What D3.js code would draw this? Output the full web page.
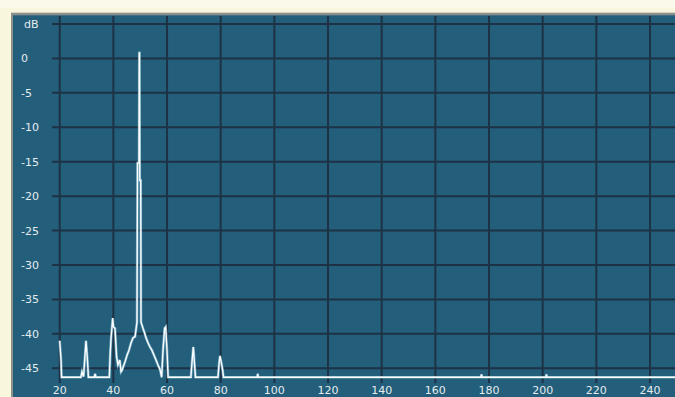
<!DOCTYPE html>
<html>
<head>
<meta charset="utf-8">
<script src="https://cdn.jsdelivr.net/npm/d3@7"></script>
<style>
  html, body { margin: 0; padding: 0; background: #f8f6dc; }
  svg { display: block; }
  text { font-family: "DejaVu Sans", Verdana, sans-serif; font-size: 11px; fill: #e4ecef; }
</style>
</head>
<body>
<svg id="chart" width="675" height="397"></svg>
<script>
// Spectrum trace: frequency (Hz) and level (dB)
const freqHz = [
  20.0, 20.5, 20.7, 27.9, 28.3, 28.9, 29.4, 29.8, 30.3, 30.7,
  32.9, 33.2, 33.5, 38.5, 38.8, 39.1, 39.75, 40.05, 40.6, 41.2,
  41.7, 42.4, 42.85, 43.2, 44.3, 45.1, 45.8, 46.6, 47.3, 48.1,
  48.4, 48.8, 49.0, 49.55, 49.65, 49.75, 49.85, 50.2, 50.3, 51.05,
  51.5, 52.2, 52.9, 53.65, 54.4, 55.15, 55.9, 56.6, 57.4, 58.0,
  58.5, 59.1, 59.5, 60.0, 60.4, 68.9, 69.3, 69.8, 70.2, 70.6,
  79.0, 79.4, 79.75, 80.3, 80.7, 81.05, 93.6, 93.8, 94.0, 177.0,
  177.2, 177.4, 201.2, 201.4, 201.6, 260.0
];
const levelDb = [
  -41.0, -43.8, -46.3, -46.3, -45.5, -46.2, -43.3, -41.0, -43.5, -46.3,
  -46.3, -45.8, -46.3, -46.3, -43.0, -40.9, -37.7, -39.0, -39.2, -43.3,
  -44.5, -43.8, -45.5, -45.3, -44.1, -43.1, -42.4, -41.3, -40.6, -40.4,
  -39.5, -38.3, -15.2, -15.2, 0.8, 0.8, -17.7, -17.7, -38.3, -39.2,
  -39.7, -40.6, -41.3, -41.9, -42.4, -43.1, -43.8, -44.5, -45.2, -46.3,
  -42.4, -39.2, -39.0, -42.4, -46.3, -46.3, -44.1, -41.9, -44.1, -46.3,
  -46.3, -44.3, -43.2, -44.3, -45.2, -46.3, -46.3, -45.8, -46.3, -46.3,
  -45.9, -46.3, -46.3, -45.9, -46.3, -46.3
];
const xTicks = [20, 40, 60, 80, 100, 120, 140, 160, 180, 200, 220, 240];
const yTicks = [0, -5, -10, -15, -20, -25, -30, -35, -40, -45];
const yUnitLabel = "dB";

const svg = d3.select("#chart");
const W = 675, H = 397;

// Frame and plotting panel
svg.append("rect").attr("x", 0).attr("y", 0).attr("width", W).attr("height", 8).attr("fill", "#fbfaea");
svg.append("rect").attr("x", 11).attr("y", 12.7).attr("width", 700).attr("height", 420).attr("fill", "#8e8e8a");
svg.append("rect").attr("x", 13).attr("y", 15.3).attr("width", 700).attr("height", 420).attr("fill", "#235e7b");

const x = d3.scaleLinear().domain([20, 240]).range([59.7, 650]);
const y = d3.scaleLinear().domain([5, -45]).range([24, 368.3]);

const grid = svg.append("g").attr("stroke", "#1d3245").attr("stroke-width", 2);
// Horizontal grid lines (including the dB unit row)
grid.selectAll("line.h").data([5].concat(yTicks)).join("line")
  .attr("x1", 52).attr("x2", W + 10)
  .attr("y1", d => y(d)).attr("y2", d => y(d));
// Vertical grid lines
grid.selectAll("line.v").data(xTicks).join("line")
  .attr("x1", d => x(d)).attr("x2", d => x(d))
  .attr("y1", 16).attr("y2", 383);

// Y labels
svg.append("g").selectAll("text").data(yTicks).join("text")
  .attr("x", 21).attr("y", d => y(d)).attr("dy", "0.36em")
  .attr("text-anchor", "start")
  .text(d => d);
svg.append("text").attr("x", 24).attr("y", y(5)).attr("dy", "0.36em").text(yUnitLabel);

// X labels
svg.append("g").selectAll("text").data(xTicks).join("text")
  .attr("x", d => x(d)).attr("y", 394)
  .attr("text-anchor", "middle")
  .text(d => d);

// Spectrum trace
const pts = freqHz.map((f, i) => [f, levelDb[i]]);
const line = d3.line().x(d => x(d[0])).y(d => y(d[1])).curve(d3.curveLinear);
svg.append("clipPath").attr("id", "plotclip")
  .append("rect").attr("x", 13).attr("y", 16).attr("width", 700).attr("height", 372);
const trace = svg.append("g").attr("clip-path", "url(#plotclip)");
trace.append("path").attr("d", line(pts))
  .attr("fill", "none").attr("stroke", "#a9dbee").attr("stroke-width", 2.6)
  .attr("stroke-opacity", 0.6).attr("stroke-linejoin", "miter");
trace.append("path").attr("d", line(pts))
  .attr("fill", "none").attr("stroke", "#ffffff").attr("stroke-width", 1.3)
  .attr("stroke-linejoin", "miter");
</script>
</body>
</html>
